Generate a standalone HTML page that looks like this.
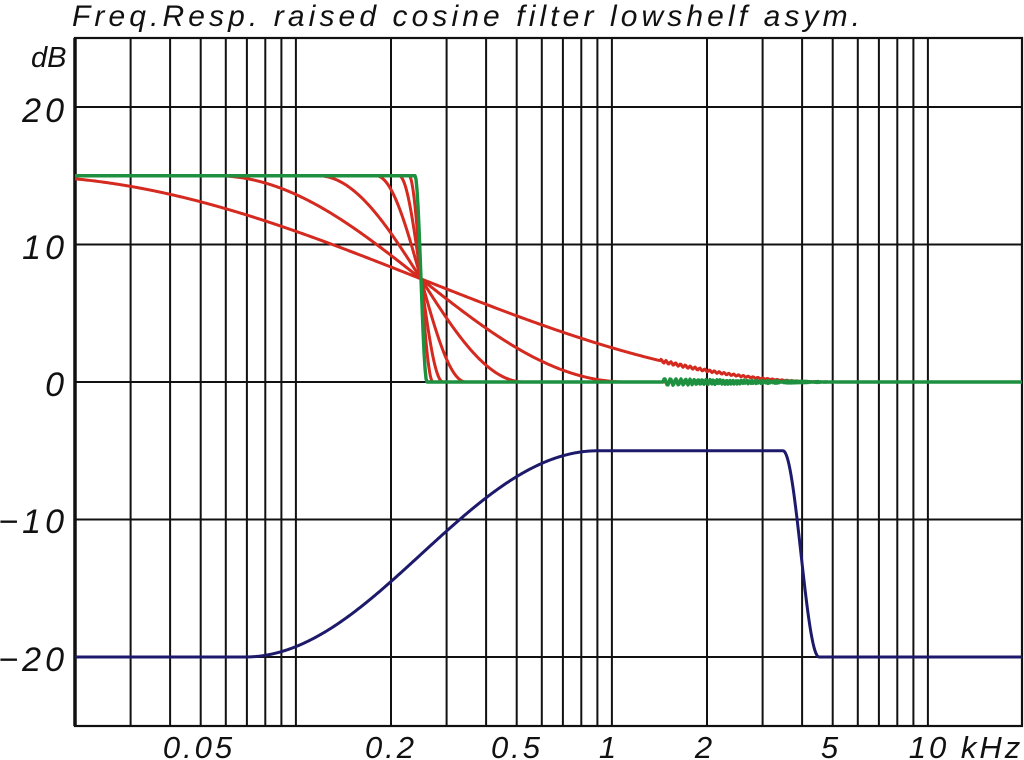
<!DOCTYPE html>
<html><head><meta charset="utf-8"><style>
html,body{margin:0;padding:0;background:#fff;}
svg{display:block;}
text{font-family:"Liberation Sans",sans-serif;font-style:italic;fill:#111;}
</style></head><body>
<svg id="s" width="1024" height="760" viewBox="0 0 1024 760" xmlns="http://www.w3.org/2000/svg">
<text x="72" y="26" font-size="30" textLength="788" lengthAdjust="spacing">Freq.Resp. raised cosine filter lowshelf asym.</text>
<text x="31" y="67" font-size="29">dB</text>
<g font-size="34" text-anchor="end" letter-spacing="4">
<text x="68" y="122">20</text>
<text x="68" y="259">10</text>
<text x="68" y="396">0</text>
<text x="68" y="533">−10</text>
<text x="68" y="671">−20</text>
</g>
<g font-size="31" text-anchor="middle" letter-spacing="3">
<text x="199" y="758">0.05</text>
<text x="391" y="758">0.2</text>
<text x="517" y="758">0.5</text>
<text x="609" y="758">1</text>
<text x="705" y="758">2</text>
<text x="831" y="758">5</text>
<text x="966" y="758">10 kHz</text>
</g>
<g id="grid" stroke="#111" stroke-width="2" fill="none"></g>
<g id="curves" fill="none" stroke-linejoin="round"></g>
</svg>
<script>
var L=75,R=1022,T=38,B=726,dec=316;
function X(f){return L+(Math.log10(f)-Math.log10(0.02))*dec;}
function Y(db){return 382-db*13.75;}
var g=document.getElementById('grid'),h='';
var fs=[];
[0.01,0.1,1,10].forEach(function(d){for(var k=1;k<10;k++){var f=d*k;if(f>0.02&&f<20)fs.push(f);}});
fs.forEach(function(f){var x=X(f).toFixed(1);h+='<line x1="'+x+'" y1="'+T+'" x2="'+x+'" y2="'+B+'"/>';});
[20,10,0,-10,-20].forEach(function(d){var y=Y(d).toFixed(1);h+='<line x1="'+L+'" y1="'+y+'" x2="'+R+'" y2="'+y+'"/>';});
h+='<rect x="'+L+'" y="'+T+'" width="'+(R-L)+'" height="'+(B-T)+'" stroke-width="2.2"/>';
h+='<line x1="'+L+'" y1="'+T+'" x2="'+L+'" y2="'+B+'" stroke-width="3.5"/>';
g.innerHTML=h;
function rc(x,c,w){if(x<=c-w)return 1;if(x>=c+w)return 0;return 0.5*(1+Math.cos(Math.PI*(x-(c-w))/(2*w)));}
var out='',c=421;
function path(fn,col,sw){var d='';for(var x=L;x<=R;x+=1){d+=(x==L?'M':'L')+x+' '+Y(fn(x)).toFixed(2);}out+='<path d="'+d+'" stroke="'+col+'" stroke-width="'+sw+'"/>';}
[410,205,103,45,22,12].forEach(function(w,i){
 path(function(x){var v=15*rc(x,c,w);if(i==0&&x>660&&x<820){v+=0.12*Math.sin((x-660)*1.3)*(820-x)/160;}return v;},'#d42a1f',3);
});
path(function(x){var v=15*rc(x,c,6);if(x>663&&x<840){var t=x-663;v+=0.25*Math.sin(t*(1.0+t*0.008))*(1-t/177);}return v;},'#1e9140',3.4);
path(function(x){var v;if(x<598)v=-20+15*(1-rc(x,421.5,176.5));else v=-5-15*(1-rc(x,801,18));return v;},'#1d1a6b',3);
document.getElementById('curves').innerHTML=out;
</script>
</body></html>
